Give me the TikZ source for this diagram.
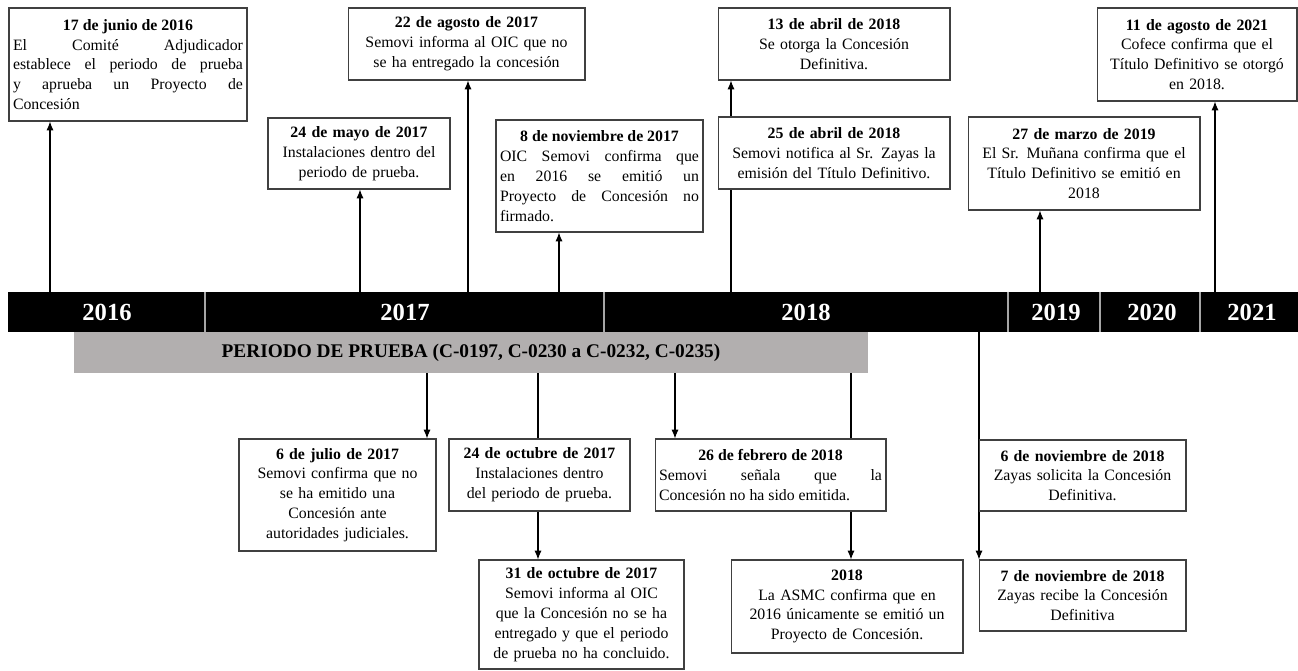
\documentclass[tikz,border=0pt]{standalone}
\usepackage{fontspec}
\setmainfont{Liberation Serif}
\usepackage{xcolor}
\usetikzlibrary{arrows.meta,backgrounds}
\definecolor{periodgray}{RGB}{178,175,175}
\newcommand{\evfont}{\fontsize{9}{11.3}\selectfont}
\newcommand{\evtitle}[1]{{\centering\bfseries #1\par}}
\tikzset{
	evbox/.style 2 args={draw=black!75, fill=white, line width=0.6pt, inner xsep=0.08cm, inner ysep=2pt,
		text width=#1, minimum height=#2, align=center, font=\evfont},
	justbox/.style={align=justify},
	arrow/.style={-{Latex[length=5pt,width=4pt]}, line width=0.6pt},
	yearlabel/.style={text=white, font=\fontsize{14}{16}\selectfont\bfseries},
	yearsep/.style={draw=gray!70, line width=0.6pt}
}

\begin{document}
\begin{tikzpicture}[x=0.02cm, y=-0.02cm]
	\useasboundingbox (0,0) rectangle (1298,670);
	
	%% -- Year bar
	\node[fill=black, inner sep=0pt, minimum width=25.8cm, minimum height=0.8cm] (bar) at (653,312) {};
	\foreach \sx in {205,604,1008,1100,1200}
		\draw[yearsep] (bar.north -| \sx,0) -- (bar.south -| \sx,0);
	
	\node[yearlabel] (y2016) at (107,312) {2016};
	\node[yearlabel] (y2017) at (405,312) {2017};
	\node[yearlabel] (y2018) at (806,312) {2018};
	\node[yearlabel] (y2019) at (1056,312) {2019};
	\node[yearlabel] (y2020) at (1152,312) {2020};
	\node[yearlabel] (y2021) at (1252,312) {2021};
	
	%% -- Trial period
	\node[fill=periodgray, inner sep=0pt, minimum width=15.88cm, minimum height=0.82cm,
	font=\fontsize{11}{13}\selectfont\bfseries] (periodo) at (471,352.5)
	{PERIODO DE PRUEBA (C-0197, C-0230 a C-0232, C-0235)};
	
	%% -- Events above the bar
	\node[evbox={4.60cm}{2.26cm}, justbox] (junio16) at (128,64.5)
	{\evtitle{17 de junio de 2016}El Comité Adjudicador\linebreak establece el periodo de prueba\linebreak y aprueba un Proyecto de\linebreak Concesión};
	
	\node[evbox={4.58cm}{1.44cm}] (agosto17) at (466.5,44)
	{\evtitle{22 de agosto de 2017}Semovi informa al OIC que no\\ se ha entregado la concesión};
	
	\node[evbox={3.48cm}{1.42cm}] (mayo17) at (359,153.5)
	{\evtitle{24 de mayo de 2017}Instalaciones dentro del\\ periodo de prueba.};
	
	\node[evbox={3.98cm}{2.24cm}, justbox] (nov17) at (599.5,176)
	{\evtitle{8 de noviembre de 2017}OIC Semovi confirma que\linebreak en 2016 se emitió un\linebreak Proyecto de Concesión no\linebreak firmado.};
	
	\node[evbox={4.48cm}{1.44cm}] (abril13) at (834,44)
	{\evtitle{13 de abril de 2018}Se otorga la Concesión\\ Definitiva.};
	
	\node[evbox={4.48cm}{1.44cm}] (abril25) at (834,153)
	{\evtitle{25 de abril de 2018}Semovi notifica al Sr. Zayas la\\ emisión del Título Definitivo.};
	
	\node[evbox={4.48cm}{1.86cm}] (marzo19) at (1084,163.5)
	{\evtitle{27 de marzo de 2019}El Sr. Muñana confirma que el\\ Título Definitivo se emitió en\\ 2018};
	
	\node[evbox={3.84cm}{1.86cm}] (agosto21) at (1197,54.5)
	{\evtitle{11 de agosto de 2021}Cofece confirma que el\\ Título Definitivo se otorgó\\ en 2018.};
	
	%% -- Events below the bar
	\node[evbox={3.78cm}{2.24cm}] (julio17) at (337.5,495)
	{\evtitle{6 de julio de 2017}Semovi confirma que no\\ se ha emitido una\\ Concesión ante\\ autoridades judiciales.};
	
	\node[evbox={3.46cm}{1.44cm}] (oct24) at (539.5,475)
	{\evtitle{24 de octubre de 2017}Instalaciones dentro\\ del periodo de prueba.};
	
	\node[evbox={3.94cm}{2.18cm}] (oct31) at (581.5,614.5)
	{\evtitle{31 de octubre de 2017}Semovi informa al OIC\\ que la Concesión no se ha\\ entregado y que el periodo\\ de prueba no ha concluido.};
	
	\node[evbox={4.46cm}{1.44cm}, justbox] (feb26) at (770.5,475)
	{\evtitle{26 de febrero de 2018}Semovi señala que la\linebreak Concesión no ha sido emitida.};
	
	\node[evbox={4.48cm}{1.86cm}] (asmc18) at (847,606.5)
	{\evtitle{2018}La ASMC confirma que en\\ 2016 únicamente se emitió un\\ Proyecto de Concesión.};
	
	\node[evbox={3.98cm}{1.42cm}] (nov6) at (1082.5,475.5)
	{\evtitle{6 de noviembre de 2018}Zayas solicita la Concesión\\ Definitiva.};
	
	\node[evbox={3.98cm}{1.42cm}] (nov7) at (1082.5,595.5)
	{\evtitle{7 de noviembre de 2018}Zayas recibe la Concesión\\ Definitiva};
	
	%% -- Connectors (behind the boxes)
	\begin{scope}[on background layer]
		\foreach \tx/\ev in {50/junio16, 360/mayo17, 468/agosto17, 559/nov17, 731/abril13, 1040/marzo19, 1215/agosto21}
			\draw[arrow] (bar.north -| \tx,0) -- (\ev.south -| \tx,0);
		\foreach \tx/\ev in {427/julio17, 538/oct31, 675/feb26, 851/asmc18}
			\draw[arrow] (periodo.south -| \tx,0) -- (\ev.north -| \tx,0);
		\draw[arrow] (bar.south -| 979,0) -- (nov7.north -| 979,0);
	\end{scope}
	
\end{tikzpicture}
\end{document}
